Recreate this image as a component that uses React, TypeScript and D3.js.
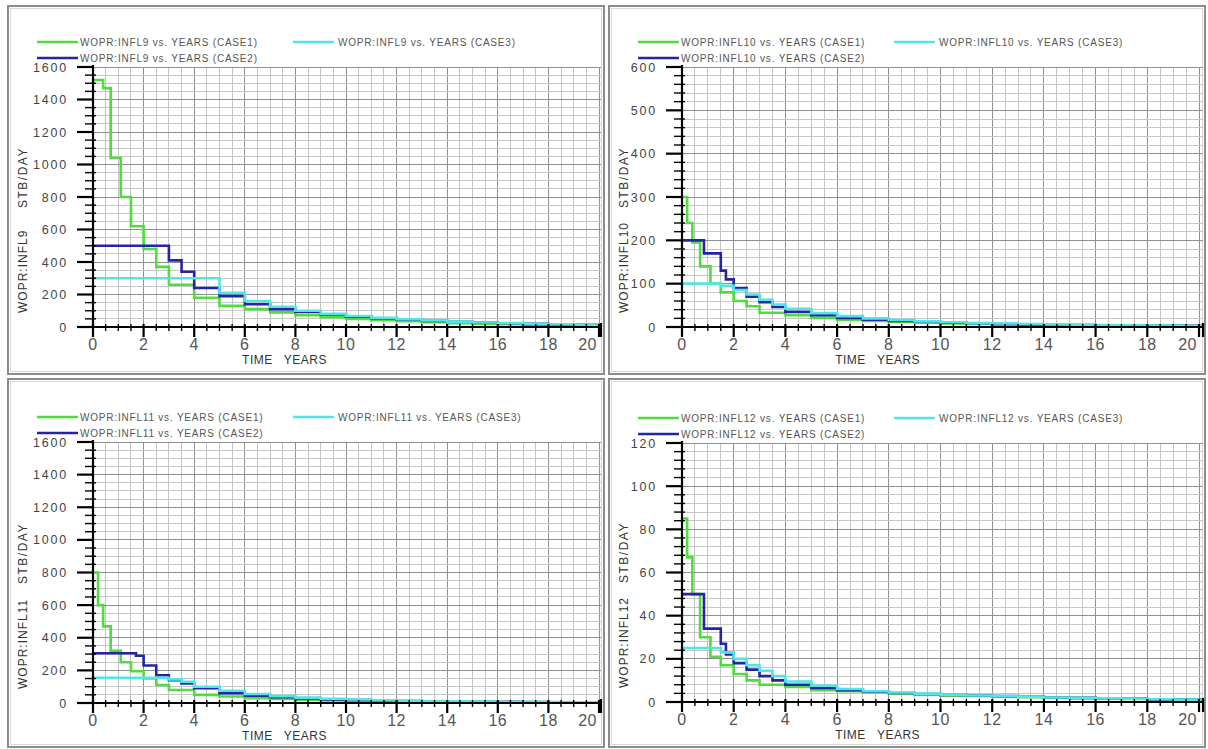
import React from 'react';
import * as d3 from 'd3';

// ---------- DATA ----------
const TIMES = [0, 0.2, 0.4, 0.7, 0.85, 1.1, 1.5, 1.7, 2, 2.5, 3, 3.5, 4, 5, 6, 7, 8, 9, 10, 11, 12, 13, 14, 15, 16, 17, 18, 19, 20];
const X_TICKS = [0, 2, 4, 6, 8, 10, 12, 14, 16, 18, 20];
const WELLS = ['INFL9', 'INFL10', 'INFL11', 'INFL12'];
const CASES = ['CASE1', 'CASE2', 'CASE3'];
const Y_MAX = [1600, 600, 1600, 120];
const Y_MAJOR = [200, 100, 200, 20];
const Y_MINOR = [50, 20, 50, 4];

const INFL9_CASE1 = [1520, 1520, 1470, 1040, 1040, 800, 620, 620, 480, 370, 260, 260, 180, 130, 110, 90, 72, 60, 50, 42, 35, 29, 24, 20, 17, 14, 12, 10, 9];
const INFL9_CASE2 = [500, 500, 500, 500, 500, 500, 500, 500, 500, 500, 410, 340, 240, 190, 140, 110, 92, 78, 64, 54, 46, 38, 32, 27, 23, 19, 16, 13, 11];
const INFL9_CASE3 = [300, 300, 300, 300, 300, 300, 300, 300, 300, 300, 300, 300, 300, 210, 160, 125, 100, 82, 68, 57, 48, 40, 33, 28, 24, 20, 17, 14, 12];

const INFL10_CASE1 = [300, 240, 195, 140, 140, 100, 80, 80, 60, 48, 33, 33, 27, 21, 17, 14, 12, 10, 8, 7, 6, 5, 4.5, 4, 3.5, 3, 2.5, 2, 2];
const INFL10_CASE2 = [200, 200, 200, 200, 170, 170, 130, 110, 90, 70, 57, 46, 35, 27, 21, 17, 14, 12, 10, 8.5, 7, 6, 5, 4.5, 4, 3.5, 3, 2.5, 2];
const INFL10_CASE3 = [100, 100, 100, 100, 100, 100, 95, 95, 85, 75, 63, 52, 42, 32, 25, 20, 16, 13, 11, 9, 8, 7, 6, 5, 4.5, 4, 3.5, 3, 2.5];

const INFL11_CASE1 = [800, 600, 470, 320, 320, 250, 195, 195, 150, 110, 80, 80, 50, 40, 30, 25, 20, 16, 13, 11, 9, 8, 7, 6, 5, 4.5, 4, 3.5, 3];
const INFL11_CASE2 = [305, 305, 305, 305, 305, 305, 305, 290, 230, 170, 140, 120, 90, 60, 45, 35, 28, 22, 18, 15, 12, 10, 9, 8, 7, 6, 5, 4.5, 4];
const INFL11_CASE3 = [155, 155, 155, 155, 155, 155, 155, 155, 155, 155, 145, 130, 100, 75, 55, 42, 33, 26, 21, 17, 14, 12, 10, 9, 8, 7, 6, 5, 4.5];

const INFL12_CASE1 = [85, 67, 50, 30, 30, 21, 17, 17, 13, 10, 8, 8, 7, 5.5, 5, 4.5, 4, 3.5, 3, 2.8, 2.5, 2.2, 2, 1.8, 1.6, 1.4, 1.2, 1.1, 1];
const INFL12_CASE2 = [50, 50, 50, 50, 34, 34, 27, 22, 18, 15, 12, 10, 8, 6.5, 5.5, 4.8, 4.2, 3.7, 3.3, 3, 2.7, 2.4, 2.1, 1.9, 1.7, 1.5, 1.2, 1.1, 1];
const INFL12_CASE3 = [25, 25, 25, 25, 25, 25, 23, 23, 20, 17, 14.5, 12, 9.5, 7.5, 6, 5, 4.4, 3.9, 3.4, 3, 2.7, 2.4, 2.1, 1.9, 1.7, 1.5, 1.3, 1.1, 1];

const SERIES = [
  [INFL9_CASE1, INFL9_CASE2, INFL9_CASE3],
  [INFL10_CASE1, INFL10_CASE2, INFL10_CASE3],
  [INFL11_CASE1, INFL11_CASE2, INFL11_CASE3],
  [INFL12_CASE1, INFL12_CASE2, INFL12_CASE3],
];

// ---------- STYLE / LAYOUT ----------
const COLORS = ['#4fdc3c', '#2424a4', '#50e6e6'];
const FONT = '"Liberation Sans", Arial, sans-serif';

const LAYOUT = [
  { bx: 8, by: 6, bw: 596, bh: 368, plotL: 93, x20: 599, plotR: 601, plotT: 67, plotB: 327 },
  { bx: 609, by: 6, bw: 596, bh: 368, plotL: 682, x20: 1199, plotR: 1203, plotT: 67, plotB: 327 },
  { bx: 8, by: 379, bw: 596, bh: 368, plotL: 93, x20: 599, plotR: 601, plotT: 442, plotB: 703 },
  { bx: 609, by: 379, bw: 596, bh: 368, plotL: 682, x20: 1199, plotR: 1203, plotT: 443, plotB: 702 },
];

function Panel({ idx }: { idx: number }) {
  const p = LAYOUT[idx];
  const well = WELLS[idx];
  const yMax = Y_MAX[idx];
  const yMajor = Y_MAJOR[idx];
  const yMinor = Y_MINOR[idx];
  const x = d3.scaleLinear().domain([0, 20]).range([p.plotL, p.x20]);
  const y = d3.scaleLinear().domain([0, yMax]).range([p.plotB, p.plotT]);
  const xEnd = x.invert(p.plotR);

  const vGrid = d3.range(0.5, xEnd + 0.001, 0.5);
  const hGrid = d3.range(yMinor, yMax + 0.001, yMinor);
  const yTicks = d3.range(0, yMax + 0.001, yMajor);
  const yMinorTicks = hGrid.filter((v) => Math.abs(v / yMajor - Math.round(v / yMajor)) > 1e-6);
  const xMinorTicks = vGrid.filter((v) => Math.abs(v / 2 - Math.round(v / 2)) > 1e-6);

  const line = d3
    .line<[number, number]>()
    .x((d) => x(d[0]))
    .y((d) => y(d[1]))
    .curve(d3.curveStepAfter);

  const legY1 = p.plotT - 25;
  const legY2 = p.plotT - 9;
  const legX = p.bx + 29;
  const legX3 = p.bx + 285;

  const isMajorV = (v: number) => Math.abs(v / 2 - Math.round(v / 2)) < 1e-6;
  const isMajorH = (v: number) => Math.abs(v / yMajor - Math.round(v / yMajor)) < 1e-6;

  const titleX = p.bx + 15;
  const titleY = p.plotB - 14;

  return (
    <g>
      {/* panel frame */}
      <rect x={p.bx} y={p.by} width={p.bw} height={p.bh} fill="#fff" stroke="#8c8c8c" strokeWidth={2} />
      <rect x={p.bx + 2.5} y={p.by + 2.5} width={p.bw - 5} height={p.bh - 5} fill="none" stroke="#d8d8d8" strokeWidth={1} />

      {/* grid */}
      <g shapeRendering="crispEdges">
        {vGrid.map((v) => (
          <line key={'v' + v} x1={x(v)} x2={x(v)} y1={p.plotT} y2={p.plotB} stroke={isMajorV(v) ? '#8e8e8e' : '#c2c2c2'} strokeWidth={1} />
        ))}
        {hGrid.map((v) => (
          <line key={'h' + v} x1={p.plotL} x2={p.plotR} y1={y(v)} y2={y(v)} stroke={isMajorH(v) ? '#8e8e8e' : '#c6c6c6'} strokeWidth={1} />
        ))}
      </g>

      {/* curves */}
      {SERIES[idx].map((vals, si) => {
        const pts: [number, number][] = TIMES.map((t, i) => [t, vals[i]] as [number, number]);
        pts.push([xEnd, vals[vals.length - 1]]);
        return <path key={si} d={line(pts) || ''} fill="none" stroke={COLORS[si]} strokeWidth={2.6} />;
      })}

      {/* y axis */}
      <line x1={p.plotL} x2={p.plotL} y1={p.plotT - 2} y2={p.plotB} stroke="#000" strokeWidth={2.2} />
      {yTicks.map((v) => (
        <g key={'yt' + v}>
          <line x1={p.plotL - 16} x2={p.plotL} y1={y(v)} y2={y(v)} stroke="#000" strokeWidth={2.2} />
          <text x={p.plotL - 25} y={y(v) + 4.5} textAnchor="end" fontFamily={FONT} fontSize={12.5} letterSpacing={1.8} fill="#444">
            {v}
          </text>
        </g>
      ))}
      {yMinorTicks.map((v) => (
        <line key={'ym' + v} x1={p.plotL - 8} x2={p.plotL + 3} y1={y(v)} y2={y(v)} stroke="#000" strokeWidth={1.4} />
      ))}

      {/* x axis */}
      <line x1={p.plotL} x2={p.plotR} y1={p.plotB} y2={p.plotB} stroke="#000" strokeWidth={2.2} />
      <line x1={p.plotR} x2={p.plotR} y1={p.plotB - 4} y2={p.plotB + 10} stroke="#000" strokeWidth={2.2} />
      {X_TICKS.map((v, i) => (
        <g key={'xt' + v}>
          <line x1={x(v)} x2={x(v)} y1={p.plotB - 3} y2={p.plotB + 10} stroke="#000" strokeWidth={2.2} />
          <text
            x={i === X_TICKS.length - 1 ? x(v) - 2 : x(v)}
            y={p.plotB + 23}
            textAnchor={i === X_TICKS.length - 1 ? 'end' : 'middle'}
            fontFamily={FONT}
            fontSize={16}
            letterSpacing={0.5}
            fill="#555"
          >
            {v}
          </text>
        </g>
      ))}
      {xMinorTicks.map((v) => (
        <line key={'xm' + v} x1={x(v)} x2={x(v)} y1={p.plotB - 3} y2={p.plotB + 4} stroke="#000" strokeWidth={1.4} />
      ))}

      {/* axis titles */}
      <text x={x(7.5) - 10} y={p.plotB + 37} textAnchor="end" fontFamily={FONT} fontSize={12} letterSpacing={0.5} fill="#333">
        TIME
      </text>
      <text x={x(7.5) + 1} y={p.plotB + 37} textAnchor="start" fontFamily={FONT} fontSize={12} letterSpacing={0.5} fill="#333">
        YEARS
      </text>
      <g transform={`translate(${titleX},${titleY}) rotate(-90)`}>
        <text x={0} y={4} textAnchor="start" fontFamily={FONT} fontSize={12} letterSpacing={1} fill="#333">
          {'WOPR:' + well}
        </text>
        <text x={105} y={4} textAnchor="start" fontFamily={FONT} fontSize={12} letterSpacing={1.5} fill="#333">
          STB/DAY
        </text>
      </g>

      {/* legend */}
      {[0, 1].map((si) => {
        const ly = si === 0 ? legY1 : legY2;
        return (
          <g key={'lg' + si}>
            <line x1={legX} x2={legX + 41} y1={ly} y2={ly} stroke={COLORS[si]} strokeWidth={2.6} />
            <text x={legX + 43} y={ly + 4} fontFamily={FONT} fontSize={10} letterSpacing={0.8} fill="#555">
              {`WOPR:${well} vs. YEARS (${CASES[si]})`}
            </text>
          </g>
        );
      })}
      <line x1={legX3} x2={legX3 + 41} y1={legY1} y2={legY1} stroke={COLORS[2]} strokeWidth={2.6} />
      <text x={legX3 + 45} y={legY1 + 4} fontFamily={FONT} fontSize={10} letterSpacing={0.8} fill="#555">
        {`WOPR:${well} vs. YEARS (${CASES[2]})`}
      </text>
    </g>
  );
}

export default function App() {
  return (
    <svg
      width={1208}
      height={749}
      viewBox="0 0 1208 749"
      style={{ position: 'absolute', left: 0, top: 0, background: '#fff' }}
    >
      <rect x={0} y={0} width={1208} height={749} fill="#fff" />
      {[0, 1, 2, 3].map((i) => (
        <Panel key={i} idx={i} />
      ))}
    </svg>
  );
}
